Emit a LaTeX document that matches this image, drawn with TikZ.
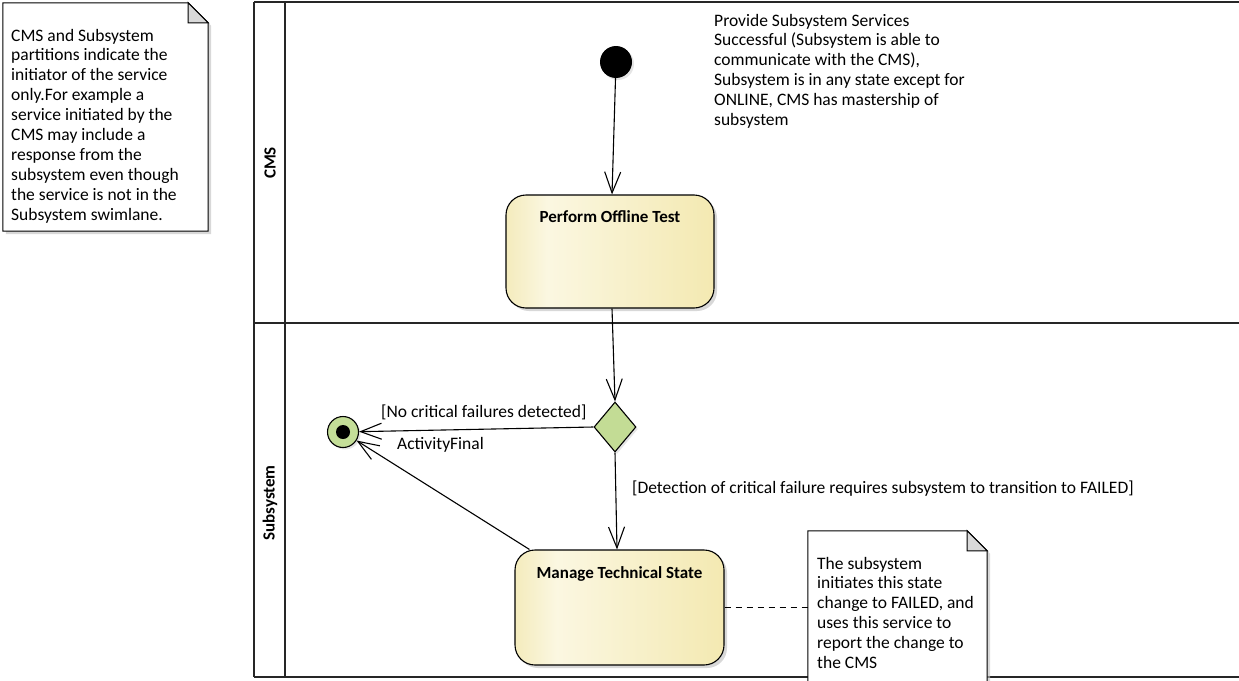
\documentclass[tikz,border=0pt]{standalone}
\usepackage{fontspec}
\setmainfont{Carlito}
\usetikzlibrary{arrows.meta,shapes.geometric,shadows}
\definecolor{actA}{HTML}{F2E8B2}
\definecolor{actL}{HTML}{FBF7E1}
\definecolor{actB}{HTML}{F3E8AE}
\definecolor{decgreen}{HTML}{C3DC95}
\definecolor{fingreen}{HTML}{C4DE98}
\definecolor{foldgray}{HTML}{D9D9D9}
\pgfdeclarehorizontalshading{actshade}{100bp}{color(0bp)=(actA); color(22bp)=(actA); color(35bp)=(actL); color(78bp)=(actB); color(100bp)=(actB)}
\newcommand\notetext[1]{\begin{tabular}[t]{@{}l@{}}#1\end{tabular}}
\tikzset{
  every node/.style={font=\fontsize{17.5}{19.9}\selectfont},
  lane/.style={line width=1.6pt, draw=black!85},
  act/.style={draw, line width=1.1pt, rounded corners=20pt, shading=actshade,
    drop shadow={shadow xshift=3pt, shadow yshift=-3pt, fill=black!25, opacity=0.6}},
  acttitle/.style={anchor=base, font=\fontsize{17}{19.9}\selectfont\bfseries},
  flow/.style={draw, line width=1.1pt, -{Straight Barb[length=21pt,width=16pt,line width=1.1pt]}},
  txt/.style={anchor=base west, inner sep=0pt},
  notebox/.style={inner sep=0pt},
  notefold/.style={fill=foldgray, draw, line width=1pt},
  noteline/.style={draw, line width=1pt, fill=white,
    drop shadow={shadow xshift=3pt, shadow yshift=-3pt, fill=black!25, opacity=0.6}},
  lanelabel/.style={rotate=90, font=\fontsize{17}{19.9}\selectfont\bfseries},
}
\begin{document}
\begin{tikzpicture}[x=1pt,y=-1pt]
\clip (0,0) rectangle (1239,680);
\fill[white] (0,0) rectangle (1239,680);

% swimlanes
\draw[lane] (254,2) -- (1245,2);
\draw[lane] (254,677) -- (1245,677);
\draw[lane] (254,323) -- (1245,323);
\draw[lane] (254,2) -- (254,677);
\draw[lane] (285,2) -- (285,677);
\node[lanelabel] (lcms) at (270,163) {CMS};
\node[lanelabel] (lsub) at (270,503) {Subsystem};

% left note
\node[notebox, minimum width=205pt, minimum height=228pt] (n1) at (105.5,117) {};
\path[noteline] (n1.north west) -- ([xshift=-20pt]n1.north east) -- ([yshift=-20pt]n1.north east) -- (n1.south east) -- (n1.south west) -- cycle;
\path[notefold] ([xshift=-20pt]n1.north east) -- ([xshift=-20pt,yshift=-20pt]n1.north east) -- ([yshift=-20pt]n1.north east) -- cycle;
\node[txt] (n1t) at (11,41) {\notetext{CMS and Subsystem\\partitions indicate the\\initiator of the service\\only.For example a\\service initiated by the\\CMS may include a\\response from the\\subsystem even though\\the service is not in the\\Subsystem swimlane.}};

% precondition text
\node[txt] (pre) at (714,26) {\notetext{Provide Subsystem Services\\Successful (Subsystem is able to\\communicate with the CMS),\\Subsystem is in any state except for\\ONLINE, CMS has mastership of\\subsystem}};

% initial node
\node[circle, fill=black, minimum size=32pt, inner sep=0pt,
  drop shadow={shadow xshift=2pt, shadow yshift=-2pt, fill=black!20, opacity=0.5}] (init) at (616,62) {};

% activities
\node[act, minimum width=208pt, minimum height=113pt] (pot) at (610,251.5) {};
\node[acttitle] (pott) at ([yshift=-28pt]pot.north) {Perform Offline Test};
\node[act, minimum width=209pt, minimum height=115pt] (mts) at (619.5,607.5) {};
\node[acttitle] (mtst) at ([yshift=-29pt]mts.north) {Manage Technical State};

% decision
\node[diamond, draw, line width=1.1pt, fill=decgreen, minimum width=42pt, minimum height=50pt, inner sep=0pt, aspect=0.84,
  drop shadow={shadow xshift=2pt, shadow yshift=-2pt, fill=black!20, opacity=0.5}] (dec) at (615,427) {};

% final node
\node[circle, draw, line width=1.1pt, fill=fingreen, minimum size=31pt, inner sep=0pt,
  drop shadow={shadow xshift=2pt, shadow yshift=-2pt, fill=black!20, opacity=0.5}] (fin) at (343,432) {};
\node[circle, fill=black, minimum size=14pt, inner sep=0pt] (fini) at (fin) {};

% bottom note
\node[notebox, minimum width=179pt, minimum height=170pt] (n2) at (897.5,616) {};
\path[noteline] (n2.north west) -- ([xshift=-20pt]n2.north east) -- ([yshift=-20pt]n2.north east) -- (n2.south east) -- (n2.south west) -- cycle;
\path[notefold] ([xshift=-20pt]n2.north east) -- ([xshift=-20pt,yshift=-20pt]n2.north east) -- ([yshift=-20pt]n2.north east) -- cycle;
\node[txt] (n2t) at (817,569) {\notetext{The subsystem\\initiates this state\\change to FAILED, and\\uses this service to\\report the change to\\the CMS}};

% flows
\draw[flow] (init) -- ([xshift=2pt]pot.north);
\draw[flow] ([xshift=2pt]pot.south) -- (dec.north);
\draw[flow] (dec.west) -- (fin);
\draw[flow] (dec.south) -- ([xshift=-2.5pt]mts.north);
\draw[flow] ([xshift=15pt]mts.north west) -- (fin);
\draw[dashed, line width=1pt, dash pattern=on 6pt off 5pt] (mts.east) -- (mts.east -| n2.west);

% guard labels
\node[txt] (g1) at (381,417) {[No critical failures detected]};
\node[txt] (g2) at (397,449) {ActivityFinal};
\node[txt] (g3) at (632,493) {[Detection of critical failure requires subsystem to transition to FAILED]};
\end{tikzpicture}
\end{document}
